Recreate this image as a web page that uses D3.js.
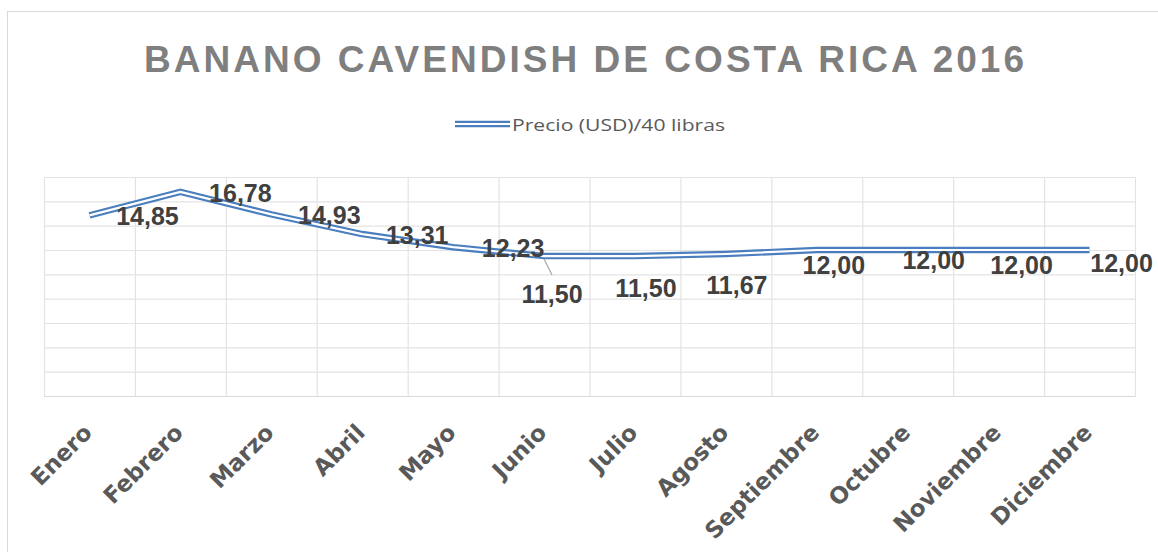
<!DOCTYPE html>
<html>
<head>
<meta charset="utf-8">
<script src="https://cdn.jsdelivr.net/npm/d3@7"></script>
<style>
    body { margin: 0; background: #fff; }
    svg { display: block; }
</style>
</head>
<body>
<div id="chart-container"></div>
<script>
const months = ["Enero", "Febrero", "Marzo", "Abril", "Mayo", "Junio", "Julio",
    "Agosto", "Septiembre", "Octubre", "Noviembre", "Diciembre"];
const prices = [14.85, 16.78, 14.93, 13.31, 12.23, 11.50, 11.50, 11.67, 12.00, 12.00, 12.00, 12.00];
const yTicks = [0, 2, 4, 6, 8, 10, 12, 14, 16, 18];
const seriesName = "Precio (USD)/40 libras";
const title = "BANANO CAVENDISH DE COSTA RICA 2016";

// label centre offsets from each point (the labels were dragged around by hand)
const labelOffsets = [[58, 1], [60, 1], [58, 1], [55, 1], [60, 1], [8, 38],
    [11, 32], [11, 31], [17, 15], [26, 10], [23, 15], [32, 13]];

const W = 1158, H = 552;
const plot = { left: 44, right: 1135, top: 177, bottom: 396 };
const blue = "#4a7ebf";

const svg = d3.select("#chart-container")
    .append("svg")
    .attr("width", W)
    .attr("height", H);

// chart area border
svg.append("rect")
    .attr("x", 7.5).attr("y", 11.5)
    .attr("width", W + 10).attr("height", H + 10)
    .attr("fill", "#fff")
    .attr("stroke", "#d9d9d9");

svg.append("text")
    .attr("x", 584).attr("y", 72)
    .attr("text-anchor", "middle")
    .attr("textLength", 880)
    .attr("lengthAdjust", "spacing")
    .style("font-family", "'Liberation Sans', Arial, sans-serif")
    .style("font-weight", "bold")
    .style("font-size", "37px")
    .style("fill", "#7f7f7f")
    .text(title);

// legend
const legend = svg.append("g");
[[blue, 6.5], ["#fff", 2.2]].forEach(([c, w]) => {
    legend.append("line")
        .attr("x1", 455).attr("x2", 510)
        .attr("y1", 124).attr("y2", 124)
        .attr("stroke", c).attr("stroke-width", w);
});
legend.append("text")
    .attr("x", 512).attr("y", 131)
    .attr("textLength", 213)
    .attr("lengthAdjust", "spacingAndGlyphs")
    .style("font-family", "'Open Sans', sans-serif")
    .style("font-size", "17px")
    .style("fill", "#595959")
    .text(seriesName);

const x = d3.scaleBand().domain(months).range([plot.left, plot.right]);
const xEdge = d3.scaleLinear().domain([0, months.length]).range([plot.left, plot.right]);
const y = d3.scaleLinear().domain([0, 18]).range([plot.bottom, plot.top]);

// horizontal grid
svg.append("g")
    .attr("transform", `translate(${plot.left},0)`)
    .call(d3.axisLeft(y).tickValues(yTicks).tickSize(-(plot.right - plot.left)).tickFormat(""))
    .call(g => g.select(".domain").remove())
    .selectAll("line").attr("stroke", "#e3e3e3").attr("stroke-width", 1.2);

// vertical grid at category edges
svg.append("g")
    .attr("transform", `translate(0,${plot.bottom})`)
    .call(d3.axisBottom(xEdge).tickValues(d3.range(months.length + 1)).tickSize(-(plot.bottom - plot.top)).tickFormat(""))
    .call(g => g.select(".domain").remove())
    .selectAll("line").attr("stroke", "#e3e3e3").attr("stroke-width", 1.2);

// category labels
svg.append("g")
    .attr("transform", `translate(0,${plot.bottom})`)
    .call(d3.axisBottom(x).tickSize(0))
    .call(g => g.select(".domain").attr("stroke", "#d9d9d9"))
    .selectAll("text")
    .attr("text-anchor", "end")
    .attr("dy", null)
    .attr("y", 0)
    .attr("transform", "translate(4,38) rotate(-45)")
    .style("font-family", "'DejaVu Sans', sans-serif")
    .style("font-weight", "bold")
    .style("font-size", "23px")
    .style("fill", "#595959");

const cx = i => x(months[i]) + x.bandwidth() / 2;

const line = d3.line()
    .x((_, i) => cx(i))
    .y(d => y(d));

[[blue, 6.5], ["#fff", 2.2]].forEach(([c, w]) => {
    svg.append("path")
        .datum(prices)
        .attr("fill", "none")
        .attr("stroke", c)
        .attr("stroke-width", w)
        .attr("stroke-linejoin", "round")
        .attr("d", line);
});

// leader line for Junio label
svg.append("line")
    .attr("x1", cx(5)).attr("y1", y(prices[5]) + 3)
    .attr("x2", cx(5) + 8).attr("y2", y(prices[5]) + 19)
    .attr("stroke", "#a6a6a6").attr("stroke-width", 1.2);

svg.append("g")
    .selectAll("text")
    .data(prices)
    .join("text")
    .attr("x", (_, i) => cx(i) + labelOffsets[i][0])
    .attr("y", (d, i) => y(d) + labelOffsets[i][1])
    .attr("text-anchor", "middle")
    .attr("dominant-baseline", "central")
    .style("font-family", "'Liberation Sans', Arial, sans-serif")
    .style("font-weight", "bold")
    .style("font-size", "25px")
    .style("fill", "#404040")
    .text(d => d.toFixed(2).replace(".", ","));
</script>
</body>
</html>
